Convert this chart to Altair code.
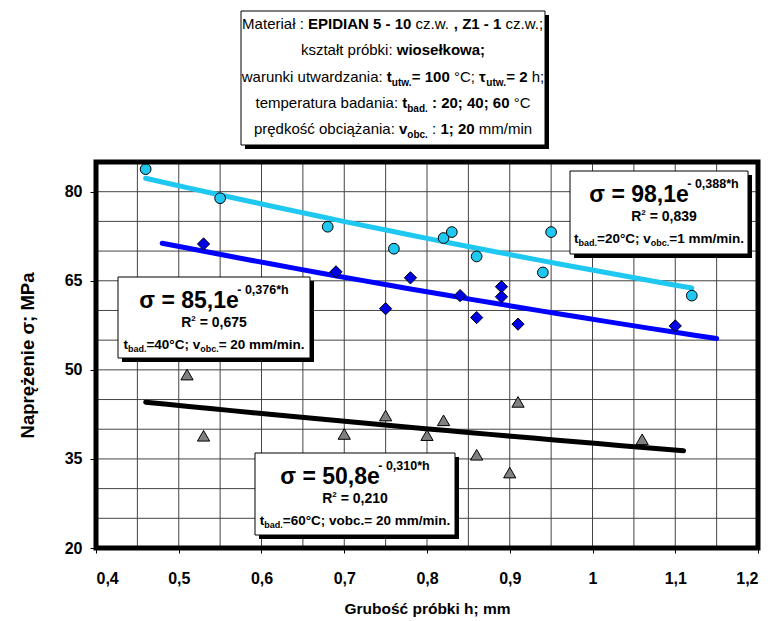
import altair as alt
import pandas as pd

FONT = "Liberation Sans"

# ---------------- data ----------------
h_20 = [0.46, 0.55, 0.68, 0.76, 0.82, 0.83, 0.86, 0.94, 0.95, 1.12]
s_20 = [83.8, 78.9, 74.1, 70.4, 72.2, 73.2, 69.1, 66.4, 73.2, 62.5]
h_40 = [0.53, 0.69, 0.75, 0.78, 0.84, 0.86, 0.89, 0.89, 0.91, 1.10]
s_40 = [71.2, 66.5, 60.3, 65.5, 62.5, 58.8, 64.0, 62.3, 57.7, 57.4]
h_60 = [0.51, 0.53, 0.70, 0.75, 0.80, 0.82, 0.86, 0.90, 0.91, 1.06]
s_60 = [49.2, 38.9, 39.2, 42.3, 39.0, 41.5, 35.7, 32.7, 44.6, 38.3]
ext_20 = [0.46, 1.12]
ext_40 = [0.48, 1.15]
ext_60 = [0.46, 1.11]

x_ticks = [0.4, 0.5, 0.6, 0.7, 0.8, 0.9, 1.0, 1.1, 1.2]
y_ticks = [20, 35, 50, 65, 80]
x_grid = [0.45, 0.5, 0.55, 0.6, 0.65, 0.7, 0.75, 0.8, 0.85, 0.9, 0.95, 1.0, 1.05, 1.1, 1.15]
y_grid = [25, 30, 35, 40, 45, 50, 55, 60, 65, 70, 75, 80]

eq_a = ["98,1", "85,1", "50,8"]
eq_b = ["0,388", "0,376", "0,310"]
eq_r2 = ["0,839", "0,675", "0,210"]

# ---------------- layout ----------------
OX, OY = 96, 162
W, H = 662, 386
X0, X1 = 0.4, 1.2
Y0, Y1 = 20, 85


def to_h(px):  # canvas pixel -> data x
    return X0 + (px - OX) / W * (X1 - X0)


def to_s(py):  # canvas pixel -> data y
    return Y1 - (py - OY) / H * (Y1 - Y0)


REG = {' ': 278, ',': 278, '.': 278, ':': 278, ';': 278, '-': 333, '=': 584, '*': 389, '/': 278, '°': 400,
       'A': 667, 'C': 722, 'D': 722, 'E': 667, 'I': 278, 'M': 833, 'N': 722, 'P': 667, 'R': 722, 'Z': 611,
       'a': 556, 'b': 556, 'c': 500, 'd': 556, 'e': 556, 'f': 278, 'g': 556, 'h': 556, 'i': 222, 'k': 500,
       'l': 222, 'm': 833, 'n': 556, 'o': 556, 'p': 556, 'r': 333, 's': 500, 't': 278, 'u': 556, 'v': 500,
       'w': 722, 'z': 500, 'ł': 222, 'ę': 556, 'ó': 556, 'ś': 500, 'ć': 500, 'ą': 556, 'ż': 500,
       'σ': 571, 'τ': 434}
BLD = {' ': 278, ',': 278, '.': 278, ':': 333, ';': 333, '-': 333, '=': 584, '*': 389, '/': 278, '°': 400,
       'A': 722, 'C': 722, 'D': 722, 'E': 667, 'I': 278, 'M': 833, 'N': 722, 'P': 667, 'R': 722, 'Z': 611,
       'a': 556, 'b': 611, 'c': 556, 'd': 611, 'e': 556, 'f': 333, 'g': 611, 'h': 611, 'i': 278, 'k': 556,
       'l': 278, 'm': 889, 'n': 611, 'o': 611, 'p': 611, 'r': 389, 's': 556, 't': 333, 'u': 611, 'v': 556,
       'w': 778, 'z': 500, 'ł': 278, 'ę': 556, 'ó': 611, 'ś': 556, 'ć': 556, 'ą': 556, 'ż': 500,
       'σ': 617, 'τ': 480}


def tw(s, b, fs):
    tab = BLD if b else REG
    return sum(tab.get(c, 556) for c in s) * fs / 1000.0


rows = []


def rich(segs, cx, base):
    total = sum(tw(t, b, fs) for t, b, fs, dy in segs)
    x = cx - total / 2.0
    for t, b, fs, dy in segs:
        lead = len(t) - len(t.lstrip(' '))
        txt = t.strip(' ')
        if txt:
            rows.append({'tx': to_h(x + tw(' ' * lead, b, fs)), 'ty': to_s(base + dy),
                         'txt': txt, 'b': b, 'fs': fs})
        x += tw(t, b, fs)


# title box text
TF, SF = 15, 10
tcx = 393
rich([("Materiał : ", 0, TF, 0), ("EPIDIAN 5 - 10", 1, TF, 0), (" cz.w. ", 0, TF, 0),
      (", Z1 - 1", 1, TF, 0), (" cz.w.;", 0, TF, 0)], tcx, 28.5)
rich([("kształt próbki: ", 0, TF, 0), ("wiosełkowa;", 1, TF, 0)], tcx, 55)
rich([("warunki utwardzania: ", 0, TF, 0), ("t", 1, TF, 0), ("utw.", 1, SF, 4), ("= 100", 1, TF, 0),
      (" °C; ", 0, TF, 0), ("τ", 1, TF, 0), ("utw.", 1, SF, 4), ("= 2", 1, TF, 0), (" h;", 0, TF, 0)],
     tcx, 81.5)
rich([("temperatura badania: ", 0, TF, 0), ("t", 1, TF, 0), ("bad.", 1, SF, 4),
      (" : 20; 40; 60", 1, TF, 0), (" °C", 0, TF, 0)], tcx, 108)
rich([("prędkość obciążania: ", 0, TF, 0), ("v", 1, TF, 0), ("obc.", 1, SF, 4), (" : ", 0, TF, 0),
      ("1; 20", 1, TF, 0), (" mm/min", 0, TF, 0)], tcx, 134)

# annotation boxes (canvas pixels)
box_x1 = [241, 570, 118, 255]
box_y1 = [11, 171, 277, 453]
box_x2 = [545, 748, 310, 455]
box_y2 = [145, 254, 358, 535]

BF, PF, RF, CF, CS = 23, 12.5, 14, 13.5, 9
cond = [
    [("t", 1, CF, 0), ("bad.", 1, CS, 3), ("=20°C; v", 1, CF, 0), ("obc.", 1, CS, 3), ("=1 mm/min.", 1, CF, 0)],
    [("t", 1, CF, 0), ("bad.", 1, CS, 3), ("=40°C; v", 1, CF, 0), ("obc.", 1, CS, 3), ("= 20 mm/min.", 1, CF, 0)],
    [("t", 1, CF, 0), ("bad.", 1, CS, 3), ("=60°C; vobc.= 20 mm/min.", 1, CF, 0)],
]
shift = [5, 0, 0]
for i in range(3):
    top = box_y1[i + 1]
    cx = (box_x1[i + 1] + box_x2[i + 1]) / 2.0
    rich([("σ = " + eq_a[i] + "e", 1, BF, 0), ("- " + eq_b[i] + "*h", 1, PF, -14)], cx + shift[i], top + 31)
    rich([("R", 1, RF, 0), ("2", 1, 8, -6), (" = " + eq_r2[i], 1, RF, 0)], cx + shift[i], top + 49.5)
    rich(cond[i], cx, top + 71.5)

txt_df = pd.DataFrame(rows)
box_df = pd.DataFrame({'bx1': [to_h(v) for v in box_x1], 'bx2': [to_h(v) for v in box_x2],
                       'by1': [to_s(v) for v in box_y1], 'by2': [to_s(v) for v in box_y2]})
shadow_df = pd.DataFrame({'bx1': [to_h(v + 4) for v in box_x1], 'bx2': [to_h(v + 4) for v in box_x2],
                          'by1': [to_s(v + 4) for v in box_y1], 'by2': [to_s(v + 4) for v in box_y2]})

# ---------------- chart ----------------
xs = alt.Scale(domain=[X0, X1], nice=False, zero=False)
ys = alt.Scale(domain=[Y0, Y1], nice=False, zero=False)

x_axis = alt.Axis(values=x_ticks, title='Grubość próbki h; mm',
                  labelExpr="replace(format(datum.value, '.1~f'), '.', ',')",
                  tickSize=5, labelPadding=17, titleX=331, titleY=60, titleBaseline='middle',
                  titleFontSize=15.5, grid=False, domain=False)
y_axis = alt.Axis(values=y_ticks, title='Naprężenie σ; MPa', tickSize=6, labelPadding=8,
                  titleX=-69, titleY=193, titleBaseline='middle', titleAlign='center',
                  titleFontSize=18.5, grid=False, domain=False)


def X(f):
    return alt.X(f, scale=xs, axis=x_axis)


def Y(f):
    return alt.Y(f, scale=ys, axis=y_axis)


grid_x = alt.Chart(pd.DataFrame({'gx': x_grid})).mark_rule(color='#444444', strokeWidth=1).encode(x=X('gx:Q'))
grid_y = alt.Chart(pd.DataFrame({'gy': y_grid})).mark_rule(color='#444444', strokeWidth=1).encode(y=Y('gy:Q'))

df20 = pd.DataFrame({'h': h_20, 's': s_20})
df40 = pd.DataFrame({'h': h_40, 's': s_40})
df60 = pd.DataFrame({'h': h_60, 's': s_60})

CYAN = '#1EC8F0'
BLUE = '#0000FF'


def trend(df, ext, color):
    return alt.Chart(df).transform_regression('h', 's', method='exp', extent=ext).mark_line(
        color=color, strokeWidth=5, strokeCap='round').encode(x=X('h:Q'), y=Y('s:Q'))


p20 = alt.Chart(df20).mark_point(shape='circle', filled=True, fill=CYAN, stroke='black', strokeWidth=1,
                                 size=115, opacity=1).encode(x=X('h:Q'), y=Y('s:Q'))
p40 = alt.Chart(df40).mark_point(shape='diamond', filled=True, fill='#0000E6', stroke='black',
                                 strokeWidth=1, size=150, opacity=1).encode(x=X('h:Q'), y=Y('s:Q'))
p60 = alt.Chart(df60).mark_point(shape='triangle-up', filled=True, fill='#808080', stroke='black',
                                 strokeWidth=1, size=150, opacity=1).encode(x=X('h:Q'), y=Y('s:Q'))


def rects(df, **kw):
    return alt.Chart(df).mark_rect(**kw).encode(x=X('bx1:Q'), x2='bx2:Q', y=Y('by1:Q'), y2='by2:Q')


shadows = rects(shadow_df, color='black')
boxes = rects(box_df, fill='white', stroke='black', strokeWidth=1)


def texts(flag, weight):
    return alt.Chart(txt_df).transform_filter(f'datum.b == {flag}').mark_text(
        align='left', baseline='alphabetic', font=FONT, fontWeight=weight, color='black').encode(
        x=X('tx:Q'), y=Y('ty:Q'), text='txt:N', size=alt.Size('fs:Q', scale=None, legend=None))


frame = alt.Chart(pd.DataFrame({'a': [0]})).mark_rect(fillOpacity=0, stroke='black', strokeWidth=5).encode(
    x=alt.value(0), x2=alt.value(W), y=alt.value(0), y2=alt.value(H))

chart = alt.layer(
    grid_x, grid_y,
    trend(df20, ext_20, CYAN), trend(df40, ext_40, BLUE), trend(df60, ext_60, 'black'),
    p20, p40, p60,
    shadows, boxes, texts(0, 'normal'), texts(1, 'bold'),
    frame,
).properties(
    width=W, height=H,
    autosize=alt.AutoSizeParams(type='none'),
    padding={'left': OX, 'top': OY, 'right': 775 - OX - W, 'bottom': 621 - OY - H},
    background='white',
).configure_view(stroke='transparent').configure_axis(
    labelFont=FONT, titleFont=FONT, labelFontSize=16, labelFontWeight='bold',
    titleFontWeight='bold', labelColor='black', titleColor='black',
    tickColor='black', tickWidth=1)

chart.save("out.html", embed_options={"renderer": "svg", "actions": False})
